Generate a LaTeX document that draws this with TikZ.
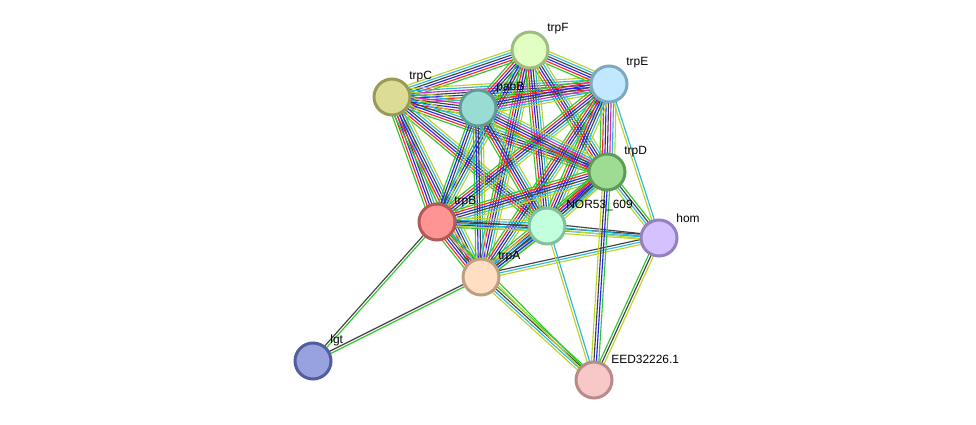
\documentclass[tikz,border=0pt]{standalone}
\usepackage{fontspec}
\setmainfont{Liberation Sans}
\usetikzlibrary{calc,backgrounds}

% evidence colours
\definecolor{sgreen}{RGB}{45,200,45}
\definecolor{sred}{RGB}{255,35,35}
\definecolor{sblue}{RGB}{35,35,255}
\definecolor{sblack}{RGB}{65,65,65}
\definecolor{smag}{RGB}{205,40,205}
\definecolor{scyan}{RGB}{40,185,225}
\definecolor{syellow}{RGB}{190,210,40}

% protein fill and rim colours
\definecolor{ftrpF}{RGB}{225,255,194}\definecolor{dtrpF}{RGB}{157,190,124}
\definecolor{ftrpE}{RGB}{194,232,255}\definecolor{dtrpE}{RGB}{126,168,192}
\definecolor{ftrpC}{RGB}{220,220,150}\definecolor{dtrpC}{RGB}{154,154,88}
\definecolor{fpabB}{RGB}{152,220,212}\definecolor{dpabB}{RGB}{95,156,148}
\definecolor{ftrpD}{RGB}{158,220,148}\definecolor{dtrpD}{RGB}{92,156,88}
\definecolor{ftrpB}{RGB}{255,148,148}\definecolor{dtrpB}{RGB}{180,88,88}
\definecolor{fnor}{RGB}{194,255,220}\definecolor{dnor}{RGB}{128,192,156}
\definecolor{fhom}{RGB}{212,194,255}\definecolor{dhom}{RGB}{150,128,192}
\definecolor{ftrpA}{RGB}{255,222,194}\definecolor{dtrpA}{RGB}{190,160,128}
\definecolor{flgt}{RGB}{152,162,222}\definecolor{dlgt}{RGB}{80,94,158}
\definecolor{feed}{RGB}{248,200,200}\definecolor{deed}{RGB}{184,138,138}

\tikzset{
  prot/.style={circle, fill=f#1, draw=d#1, line width=0.06cm,
    minimum size=0.72cm, inner sep=0pt},
  lbl/.style={anchor=west, inner sep=0pt, font=\fontsize{6.8}{8}\selectfont}
}

% one bundle of parallel evidence lines between two proteins
\newcommand{\stredge}[3]{%
  \foreach \col [count=\k] in {#3} {\xdef\nlines{\k}}%
  \foreach \col [count=\k] in {#3} {%
    \pgfmathsetmacro\off{(\k-(\nlines+1)/2)*1.4}%
    \draw[\col, line width=0.65pt] ($(#1.center)!\off pt!90:(#2.center)$)
      -- ($(#2.center)!\off pt!-90:(#1.center)$);
  }%
}

\begin{document}
\begin{tikzpicture}[x=0.02cm, y=-0.02cm]
        \useasboundingbox (0,0) rectangle (976,425);

        % Proteins
        \node[prot=trpF] (trpF) at (530,50) {};
        \node[prot=trpE] (trpE) at (609,84) {};
        \node[prot=trpC] (trpC) at (392,97) {};
        \node[prot=pabB] (pabB) at (478,108) {};
        \node[prot=trpD] (trpD) at (607,172) {};
        \node[prot=trpB] (trpB) at (437,222) {};
        \node[prot=nor] (nor) at (547,226) {};
        \node[prot=hom] (hom) at (659,238) {};
        \node[prot=trpA] (trpA) at (481,277) {};
        \node[prot=lgt] (lgt) at (313,361) {};
        \node[prot=eed] (eed) at (594,380) {};

        % Labels
        \node[lbl] (ltrpF) at (547,29) {trpF};
        \node[lbl] (ltrpE) at (626,63) {trpE};
        \node[lbl] (ltrpC) at (409,77) {trpC};
        \node[lbl] (lpabB) at (496,87) {pabB};
        \node[lbl] (ltrpD) at (624,152) {trpD};
        \node[lbl] (ltrpB) at (454,202) {trpB};
        \node[lbl] (lnor) at (566,206) {NOR53\_609};
        \node[lbl] (lhom) at (676,218) {hom};
        \node[lbl] (ltrpA) at (498,257) {trpA};
        \node[lbl] (llgt) at (330,340) {lgt};
        \node[lbl] (leed) at (611,359) {EED32226.1};

        % Edges
        \begin{scope}[on background layer]
        \stredge{trpC}{trpF}{sgreen,sred,sblue,sblack,scyan,syellow}
        \stredge{trpC}{trpE}{sgreen,sred,sblue,sblack,smag,scyan,syellow}
        \stredge{trpC}{pabB}{sgreen,sred,sblue,sblack,smag,scyan,syellow}
        \stredge{trpC}{trpD}{sgreen,sred,sblue,sblack,scyan,syellow}
        \stredge{trpC}{nor}{sgreen,sred,sblue,sblack,scyan,syellow}
        \stredge{trpC}{trpB}{sgreen,sred,sblue,sblack,scyan,syellow}
        \stredge{trpC}{trpA}{sgreen,sred,sblue,sblack,scyan,syellow}
        \stredge{trpF}{trpE}{sgreen,sred,sblue,sblack,scyan,syellow}
        \stredge{trpF}{pabB}{sgreen,sred,sblue,sblack,scyan,syellow}
        \stredge{trpF}{trpD}{sgreen,sred,sblue,sblack,scyan,syellow}
        \stredge{trpF}{trpB}{sgreen,sblue,sblack,scyan,syellow}
        \stredge{trpF}{trpA}{sgreen,sred,sblue,sblack,scyan,syellow}
        \stredge{trpF}{nor}{sgreen,sred,sblue,sblack,scyan,syellow}
        \stredge{trpE}{pabB}{sgreen,sred,sblue,sblack,smag,scyan,syellow}
        \stredge{trpE}{trpD}{sgreen,sred,sblue,sblack,smag,scyan,syellow}
        \stredge{trpE}{trpB}{sgreen,sred,sblue,sblack,scyan,syellow}
        \stredge{trpE}{trpA}{sgreen,sred,sblue,sblack,scyan,syellow}
        \stredge{trpE}{nor}{sgreen,sred,sblue,sblack,scyan,syellow}
        \stredge{pabB}{trpD}{sgreen,sred,sblue,sblack,smag,scyan,syellow}
        \stredge{pabB}{trpB}{sgreen,sblue,sblack,scyan,syellow}
        \stredge{pabB}{trpA}{sgreen,sblue,sblack,scyan,syellow}
        \stredge{pabB}{nor}{sgreen,sred,sblue,sblack,scyan,syellow}
        \stredge{trpD}{trpB}{sgreen,sred,sblue,sblack,scyan,syellow}
        \stredge{trpD}{trpA}{sgreen,sred,sblue,sblack,scyan,syellow}
        \stredge{trpD}{nor}{sgreen,sred,sblue,sblack,scyan,syellow}
        \stredge{trpB}{trpA}{sgreen,sred,sblue,sblack,smag,scyan,syellow}
        \stredge{trpB}{nor}{sgreen,sblue,sblack,scyan,syellow}
        \stredge{trpA}{nor}{sgreen,sblue,sblack,scyan,syellow}
        \stredge{hom}{trpA}{sblack,scyan,syellow}
        \stredge{hom}{trpB}{sblack,scyan,syellow}
        \stredge{hom}{nor}{sblack,scyan,syellow}
        \stredge{hom}{trpD}{sgreen,sblack,scyan,syellow}
        \stredge{hom}{trpE}{scyan,syellow}
        \stredge{hom}{eed}{sgreen,sblack,syellow}
        \stredge{eed}{trpA}{sgreen,sblack,scyan,syellow}
        \stredge{eed}{trpB}{sgreen,syellow}
        \stredge{eed}{nor}{scyan,syellow}
        \stredge{eed}{trpD}{sgreen,sblue,sblack,syellow}
        \stredge{lgt}{trpB}{sgreen,sblack}
        \stredge{lgt}{trpA}{sgreen,sblack}
        \end{scope}

\end{tikzpicture}
\end{document}
